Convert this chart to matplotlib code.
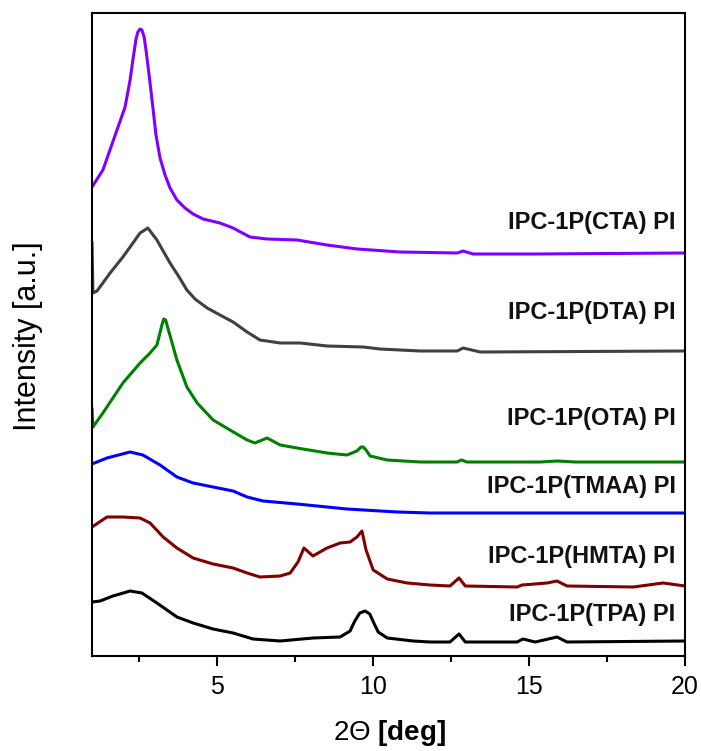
import matplotlib
matplotlib.use("Agg")
import matplotlib.pyplot as plt
from matplotlib.ticker import MultipleLocator

plt.rcParams['font.family'] = ['Liberation Sans', 'DejaVu Sans']
plt.rcParams['mathtext.fontset'] = 'custom'
plt.rcParams['mathtext.rm'] = 'Liberation Sans'
plt.rcParams['mathtext.bf'] = 'Liberation Sans:bold'

# ---- data (2Theta in deg, intensity in arbitrary offset units) ----
cta_x = [1.0, 1.35, 1.80, 2.06, 2.22, 2.31, 2.41, 2.47, 2.54, 2.60, 2.67, 2.73, 2.79, 2.86,
         2.96, 3.05, 3.18, 3.34, 3.50, 3.72, 3.98, 4.24, 4.56, 5.10, 5.52, 6.06, 6.61, 7.57,
         8.53, 9.50, 10.87, 12.70, 12.89, 13.21, 15.13, 20.0]
cta_y = [469, 486, 526, 549, 576, 596, 617, 624, 627, 626, 619, 606, 591, 573,
         546, 521, 498, 481, 468, 456, 448, 442, 437, 433, 428, 419, 417, 416,
         411, 407, 404, 403, 405, 402, 402, 403]

dta_x = [1.0, 1.03, 1.16, 1.58, 1.99, 2.22, 2.54, 2.79, 3.08, 3.28, 3.50, 3.77, 4.04, 4.30,
         4.69, 5.10, 5.52, 5.97, 6.38, 7.03, 7.67, 8.53, 9.69, 10.23, 11.51, 12.70, 12.89,
         13.44, 20.0]
dta_y = [414, 363, 365, 383, 399, 409, 423, 428, 416, 405, 393, 380, 366, 357,
         348, 341, 334, 324, 316, 313, 313, 310, 309, 307, 305, 305, 308,
         304, 305]

ota_x = [1.0, 1.03, 1.35, 1.99, 2.54, 2.86, 3.08, 3.24, 3.30, 3.36, 3.44, 3.72, 4.04, 4.37,
         4.88, 5.42, 5.97, 6.22, 6.61, 7.03, 7.57, 8.53, 9.17, 9.49, 9.62, 9.69, 9.78, 9.91,
         10.46, 11.51, 12.70, 12.83, 13.02, 15.36, 15.90, 16.48, 20.0]
ota_y = [248, 229, 243, 273, 293, 303, 311, 331, 337, 336, 327, 296, 269, 253,
         236, 226, 216, 213, 218, 211, 208, 203, 201, 205, 209, 209, 206, 200,
         196, 194, 194, 196, 194, 194, 195, 194, 194]

tmaa_x = [1.0, 1.48, 2.22, 2.63, 3.18, 3.72, 4.24, 4.88, 5.52, 5.97, 6.48, 7.57, 9.17,
          10.78, 11.83, 14.08, 20.0]
tmaa_y = [192, 198, 204, 201, 191, 179, 173, 169, 165, 159, 155, 152, 147,
          144, 143, 143, 143]

hmta_x = [1.0, 1.48, 1.99, 2.54, 2.86, 3.28, 3.72, 4.24, 4.88, 5.52, 5.97, 6.38, 7.03, 7.35,
          7.60, 7.79, 8.08, 8.53, 8.95, 9.27, 9.49, 9.65, 9.78, 10.01, 10.46, 11.10, 11.83,
          12.47, 12.76, 12.96, 14.62, 14.78, 15.58, 15.90, 16.22, 18.34, 19.30, 20.0]
hmta_y = [129, 139, 139, 138, 133, 119, 108, 98, 92, 88, 83, 79, 80, 83,
          94, 108, 100, 108, 113, 114, 119, 125, 106, 86, 77, 73, 71,
          70, 78, 70, 69, 71, 73, 75, 70, 69, 73, 70]

tpa_x = [1.0, 1.26, 1.67, 2.22, 2.60, 3.08, 3.72, 4.24, 4.88, 5.52, 6.16, 7.03, 8.08, 8.95,
         9.27, 9.42, 9.58, 9.75, 9.90, 10.03, 10.17, 10.46, 11.29, 11.83, 12.47, 12.76,
         12.96, 14.62, 14.81, 15.20, 15.90, 16.22, 20.0]
tpa_y = [54, 55, 60, 65, 63, 53, 39, 33, 27, 23, 17, 15, 18, 19,
         25, 35, 43, 45, 42, 33, 24, 18, 15, 14, 14, 22,
         14, 14, 17, 14, 19, 14, 15]

series = [
    ("IPC-1P(CTA) PI", cta_x, cta_y, "#8000FF", 433),
    ("IPC-1P(DTA) PI", dta_x, dta_y, "#404040", 343),
    ("IPC-1P(OTA) PI", ota_x, ota_y, "#008000", 238),
    ("IPC-1P(TMAA) PI", tmaa_x, tmaa_y, "#0000FF", 169),
    ("IPC-1P(HMTA) PI", hmta_x, hmta_y, "#800000", 99),
    ("IPC-1P(TPA) PI", tpa_x, tpa_y, "#000000", 41),
]

fig = plt.figure(figsize=(7.01, 7.51), dpi=100)
ax = fig.add_axes([92/701, 1-656/751, (685-92)/701, (656-13)/751])

for label, xs, ys, col, ly in series:
    ax.plot(xs, ys, color=col, lw=2.2, solid_joinstyle='round', solid_capstyle='round')
    ax.text(19.7, ly, label, ha='right', va='center', fontsize=17,
            fontweight='bold', color='#111111')

ax.set_xlim(1, 20)
ax.set_ylim(0, 643)
ax.xaxis.set_minor_locator(MultipleLocator(2.5))
ax.set_xticks([5, 10, 15, 20])
ax.set_yticks([])
ax.tick_params(axis='x', which='major', direction='out', length=7, width=1.5,
               labelsize=18, pad=7)
ax.tick_params(axis='x', which='minor', direction='out', length=4, width=1.5)
for sp in ax.spines.values():
    sp.set_linewidth(1.5)

fig.text(390/701, 1-733/751, r"2Θ $\mathbf{[deg]}$", ha='center', va='center', fontsize=20)
fig.text(28/701, 1-336/751, "Intensity [a.u.]", rotation=90, ha='center', va='center',
         fontsize=22)

fig.savefig("out.png", dpi=100)
